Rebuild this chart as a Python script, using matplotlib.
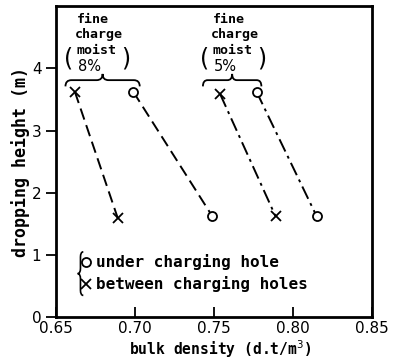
import numpy as np
import matplotlib.pyplot as plt
from matplotlib.path import Path
from matplotlib.patches import PathPatch

# bulk density (d.t/m3) and dropping height (m)
h_upper_lower = [3.62, 1.62]
m8_under = [0.699, 0.749]
m8_between = [0.662, 0.689]
m8_between_h = [3.62, 1.60]
m5_under = [0.777, 0.815]
m5_between = [0.754, 0.789]
m5_between_h = [3.58, 1.62]

xticks = [0.65, 0.70, 0.75, 0.80, 0.85]
xticklabels = ['0.65', '0.70', '0.75', '0.80', '0.85']
yticks = [0, 1, 2, 3, 4]

mono = 'DejaVu Sans Mono'


def hbrace(ax, x0, x1, y, h):
    xm = (x0 + x1) / 2
    w = (x1 - x0) * 0.08
    verts = [(x0, y - h), (x0, y), (x0 + w, y),
             (xm - w, y), (xm, y), (xm, y + h),
             (xm, y), (xm + w, y),
             (x1 - w, y), (x1, y), (x1, y - h)]
    codes = [Path.MOVETO, Path.CURVE3, Path.CURVE3,
             Path.LINETO, Path.CURVE3, Path.CURVE3,
             Path.CURVE3, Path.CURVE3,
             Path.LINETO, Path.CURVE3, Path.CURVE3]
    ax.add_patch(PathPatch(Path(verts, codes), fill=False, lw=1.3, color='black'))


def vbrace(ax, x, y0, y1, w):
    ym = (y0 + y1) / 2
    h = (y1 - y0) * 0.12
    verts = [(x + w, y1), (x, y1), (x, y1 - h),
             (x, ym + h), (x, ym), (x - w, ym),
             (x, ym), (x, ym - h),
             (x, y0 + h), (x, y0), (x + w, y0)]
    codes = [Path.MOVETO, Path.CURVE3, Path.CURVE3,
             Path.LINETO, Path.CURVE3, Path.CURVE3,
             Path.CURVE3, Path.CURVE3,
             Path.LINETO, Path.CURVE3, Path.CURVE3]
    ax.add_patch(PathPatch(Path(verts, codes), fill=False, lw=1.2, color='black'))


fig = plt.figure(figsize=(3.97, 3.6), dpi=100)
ax = fig.add_axes([0.141, 0.119, 0.796, 0.864])

mk_o = dict(marker='o', ms=6.5, mfc='white', mec='black', mew=1.3)
mk_x = dict(marker='x', ms=7, mec='black', mew=1.3)

dash = (0, (6, 3))
dashdot = (0, (7, 2.5, 1.5, 2.5))
ax.plot(m8_under, h_upper_lower, ls=dash, color='black', lw=1.4, **mk_o)
ax.plot(m8_between, m8_between_h, ls=dash, color='black', lw=1.4, **mk_x)
ax.plot(m5_under, h_upper_lower, ls=dashdot, color='black', lw=1.4, **mk_o)
ax.plot(m5_between, m5_between_h, ls=dashdot, color='black', lw=1.4, **mk_x)

ax.set_xlim(0.65, 0.85)
ax.set_ylim(0, 5)
ax.set_xticks(xticks)
ax.set_xticklabels(xticklabels)
ax.set_yticks(yticks)
ax.tick_params(axis='x', direction='in', length=7, width=1.3, labelsize=11, pad=3)
ax.tick_params(axis='y', direction='out', length=7, width=1.3, labelsize=11)
for s in ax.spines.values():
    s.set_linewidth(2)

ax.set_xlabel('bulk density (d.t/m$^3$)', fontsize=10.5, fontweight='bold',
              family=mono, va='top')
ax.xaxis.set_label_coords(0.52, -0.068)
ax.set_ylabel('dropping height (m)', fontsize=12, fontweight='bold',
              family=mono, labelpad=1)

# group labels
for x0, pct, bx0, bx1 in [(0.662, '8%', 0.656, 0.703), (0.748, '5%', 0.743, 0.780)]:
    ax.text(x0 + 0.001, 4.79, 'fine', fontsize=9.5, fontweight='bold', family=mono,
            ha='left', va='center')
    ax.text(x0, 4.55, 'charge', fontsize=9.5, fontweight='bold', family=mono,
            ha='left', va='center')
    ax.text(x0 + 0.001, 4.28, 'moist', fontsize=9.5, fontweight='bold', family=mono,
            ha='left', va='center')
    ax.text(x0 + 0.002, 4.03, pct, fontsize=10.5, family='DejaVu Sans',
            ha='left', va='center')
    ax.text(x0 - 0.004, 4.16, '(', fontsize=17, ha='center', va='center')
    ax.text(x0 + 0.032, 4.16, ')', fontsize=17, ha='center', va='center')
    hbrace(ax, bx0, bx1, 3.81, 0.1)

# legend
vbrace(ax, 0.6655, 0.35, 1.05, 0.0018)
ax.plot([0.6690], [0.89], ls='none', **mk_o)
ax.plot([0.6690], [0.53], ls='none', **mk_x)
ax.text(0.6755, 0.89, 'under charging hole', fontsize=11.5, fontweight='bold',
        family=mono, ha='left', va='center')
ax.text(0.6755, 0.53, 'between charging holes', fontsize=11.5, fontweight='bold',
        family=mono, ha='left', va='center')

fig.savefig('out.png', dpi=100)
